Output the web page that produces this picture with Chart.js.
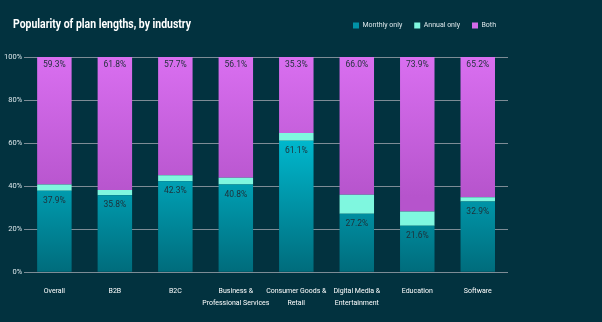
<!DOCTYPE html>
<html>
<head>
<meta charset="utf-8">
<script src="https://cdn.jsdelivr.net/npm/chart.js@4/dist/chart.umd.min.js"></script>
<style>
  body { margin: 0; background: #02323f; }
  #wrap { position: relative; width: 602px; height: 322px; }
  #titulo { position: absolute; left: 13px; top: 16px; color: #ffffff; font: bold 12.5px Roboto, sans-serif; white-space: nowrap; transform-origin: left top; }
</style>
</head>
<body>
<div id="wrap">
  <div id="titulo">Popularity of plan lengths, by industry</div>
  <canvas id="myChart" width="602" height="322"></canvas>
</div>
<script>
// Datos del gráfico
var categorias = [['Overall'], ['B2B'], ['B2C'], ['Business &', 'Professional Services'], ['Consumer Goods &', 'Retail'], ['Digital Media &', 'Entertainment'], ['Education'], ['Software']];
var mensual = [37.9, 35.8, 42.3, 40.8, 61.1, 27.2, 21.6, 32.9];
var anual = [2.8, 2.4, 2.7, 3.1, 3.6, 8.8, 6.6, 1.9];
var ambos = [59.3, 61.8, 57.7, 56.1, 35.3, 66.0, 73.9, 65.2];
var ticksY = [0, 20, 40, 60, 80, 100];

var fuente = 'Roboto, sans-serif';

// Título más estrecho, como en la imagen original
var t = document.getElementById('titulo');
t.style.transform = 'scaleX(' + (178 / t.getBoundingClientRect().width) + ')';

// Degradados según el área del gráfico
function degradado(ctx, desde, hasta, c1, c2) {
    var area = ctx.chart.chartArea;
    if (!area) return c1;
    var y = ctx.chart.scales.y;
    var g = ctx.chart.ctx.createLinearGradient(0, y.getPixelForValue(desde), 0, y.getPixelForValue(hasta));
    g.addColorStop(0, c1);
    g.addColorStop(1, c2);
    return g;
}

// Etiquetas de valores sobre las barras
var etiquetas = {
    id: 'etiquetas',
    afterDatasetsDraw: function (chart) {
        var c = chart.ctx;
        c.save();
        c.font = '8.5px ' + fuente;
        c.fillStyle = '#1e2f38';
        c.textAlign = 'center';
        c.textBaseline = 'middle';
        chart.getDatasetMeta(0).data.forEach(function (bar, i) {
            c.fillText(mensual[i].toFixed(1) + '%', bar.x, bar.y + 10);
        });
        chart.getDatasetMeta(2).data.forEach(function (bar, i) {
            c.fillText(ambos[i].toFixed(1) + '%', bar.x, chart.chartArea.top + 8);
        });
        c.restore();
    }
};

// Espacio extra debajo de la leyenda
var margenLeyenda = {
    id: 'margenLeyenda',
    beforeInit: function (chart) {
        var fit = chart.legend.fit;
        chart.legend.fit = function () {
            fit.bind(chart.legend)();
            this.height += 18;
        };
    }
};

var ctx = document.getElementById('myChart').getContext('2d');
var myChart = new Chart(ctx, {
    type: 'bar',
    data: {
        labels: categorias,
        datasets: [{
            label: 'Monthly only',
            data: mensual,
            backgroundColor: function (c) { return degradado(c, 65, 0, '#00bcd2', '#006c7c'); }
        }, {
            label: 'Annual only',
            data: anual,
            backgroundColor: '#7ff7df'
        }, {
            label: 'Both',
            data: ambos,
            backgroundColor: function (c) { return degradado(c, 100, 35, '#d96ff0', '#b654cc'); }
        }]
    },
    options: {
        responsive: false,
        animation: false,
        datasets: { bar: { barPercentage: 0.57, categoryPercentage: 1 } },
        layout: { padding: { left: 2, right: 94, top: 10, bottom: 8 } },
        plugins: {
            tooltip: { enabled: false },
            legend: {
                position: 'top',
                align: 'end',
                labels: {
                    color: '#dbe6ea',
                    font: { family: fuente, size: 7 },
                    boxWidth: 6,
                    boxHeight: 6,
                    padding: 12,
                    generateLabels: function (chart) {
                        var cols = ['#0092a6', '#7ff7df', '#d46aea'];
                        return chart.data.datasets.map(function (d, i) {
                            return { text: d.label, fillStyle: cols[i], strokeStyle: cols[i], lineWidth: 0, fontColor: '#dbe6ea', datasetIndex: i };
                        });
                    }
                }
            }
        },
        scales: {
            x: {
                stacked: true,
                grid: { display: false },
                border: { display: false },
                ticks: { color: '#ffffff', font: { family: fuente, size: 7, lineHeight: 1.7 }, padding: 5, maxRotation: 0, autoSkip: false }
            },
            y: {
                stacked: true,
                min: 0,
                max: 100,
                afterBuildTicks: function (axis) {
                    axis.ticks = ticksY.map(function (v) { return { value: v }; });
                },
                grid: { color: '#7d8c96', lineWidth: 1, drawTicks: false },
                border: { display: false },
                ticks: {
                    color: '#dbe6ea',
                    font: { family: fuente, size: 7.5 },
                    padding: 2,
                    callback: function (v) { return v + '%'; }
                }
            }
        }
    },
    plugins: [etiquetas, margenLeyenda]
});
</script>
</body>
</html>
